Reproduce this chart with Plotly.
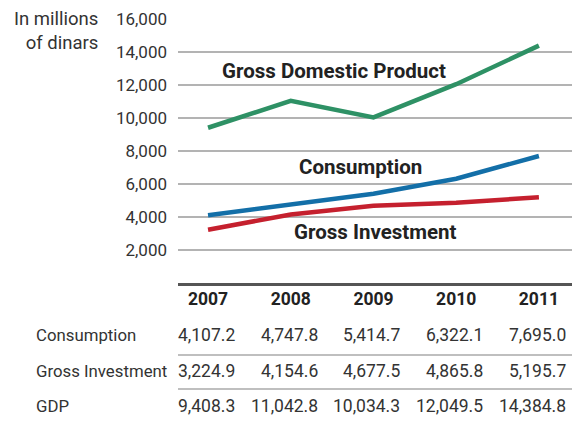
import plotly.graph_objects as go

years = [2007, 2008, 2009, 2010, 2011]
consumption = [4107.2, 4747.8, 5414.7, 6322.1, 7695.0]
investment = [3224.9, 4154.6, 4677.5, 4865.8, 5195.7]
gdp = [9408.3, 11042.8, 10034.3, 12049.5, 14384.8]
row_names = ["Consumption", "Gross Investment", "GDP"]
y_ticks = [2000, 4000, 6000, 8000, 10000, 12000, 14000, 16000]

W, H = 572, 421
L, R, T, B = 178, 0, 19, 138
PH = H - T - B

def py(pix):
    return (H - B - pix) / PH

def px(pix):
    return (pix - L) / (W - L - R)

fig = go.Figure()
fig.add_trace(go.Scatter(x=years, y=gdp, mode="lines", line=dict(color="#2e9165", width=4.5)))
fig.add_trace(go.Scatter(x=years, y=consumption, mode="lines", line=dict(color="#136fa8", width=4.5)))
fig.add_trace(go.Scatter(x=years, y=investment, mode="lines", line=dict(color="#c5202e", width=4.5)))

font = "Roboto, 'Open Sans', sans-serif"
ann = []
ann.append(dict(x=2008.52, y=12850, xref="x", yref="y", text="<b>Gross Domestic Product</b>",
                showarrow=False, font=dict(size=20.5, color="#222", family=font)))
ann.append(dict(x=2008.84, y=7050, xref="x", yref="y", text="<b>Consumption</b>",
                showarrow=False, font=dict(size=20.5, color="#222", family=font)))
ann.append(dict(x=2009.02, y=3080, xref="x", yref="y", text="<b>Gross Investment</b>",
                showarrow=False, font=dict(size=20.5, color="#222", family=font)))
ann.append(dict(x=px(100), y=py(31), xref="paper", yref="paper", xanchor="right", yanchor="middle",
                text="In millions<br>of dinars", align="right", showarrow=False,
                font=dict(size=18.5, color="#333", family=font)))

series = [consumption, investment, gdp]
row_y = [335, 371, 406]
for name, vals, ry in zip(row_names, series, row_y):
    ann.append(dict(x=px(34), y=py(ry), xref="paper", yref="paper", xanchor="left", yanchor="middle",
                    text=name, showarrow=False, font=dict(size=16.8, color="#333", family=font)))
    for yr, v in zip(years, vals):
        ann.append(dict(x=yr, y=py(ry), xref="x", yref="paper", xanchor="right", yanchor="middle",
                        xshift=29, text=f"{v:,.1f}", showarrow=False,
                        font=dict(size=17.5, color="#333", family=font)))

shapes = []
for sy in [355, 389]:
    shapes.append(dict(type="line", xref="paper", yref="paper", x0=0, x1=1, y0=py(sy), y1=py(sy),
                       line=dict(color="#aaaaaa", width=1.5)))

fig.update_layout(
    width=W, height=H, margin=dict(l=L, r=R, t=T, b=B),
    plot_bgcolor="white", paper_bgcolor="white", showlegend=False,
    annotations=ann, shapes=shapes,
    xaxis=dict(range=[2006.637, 2011.40], tickvals=years, ticktext=[f"<b>{y}</b>" for y in years],
               showgrid=False, zeroline=False, showline=True, linecolor="#555", linewidth=2.5,
               ticks="", ticklabelstandoff=-2, tickfont=dict(size=17.5, color="#222", family=font)),
    yaxis=dict(range=[0, 16000], tickvals=y_ticks, ticktext=[f"{v:,}" for v in y_ticks],
               showgrid=True, gridcolor="#b3b3b3", gridwidth=1.5, zeroline=False, showline=False,
               ticks="", ticklabelstandoff=10, tickfont=dict(size=17, color="#333", family=font)),
)
fig.write_html("out.html", config={"displayModeBar": False},
               post_script="document.body.style.margin='0';document.body.style.padding='0';")
